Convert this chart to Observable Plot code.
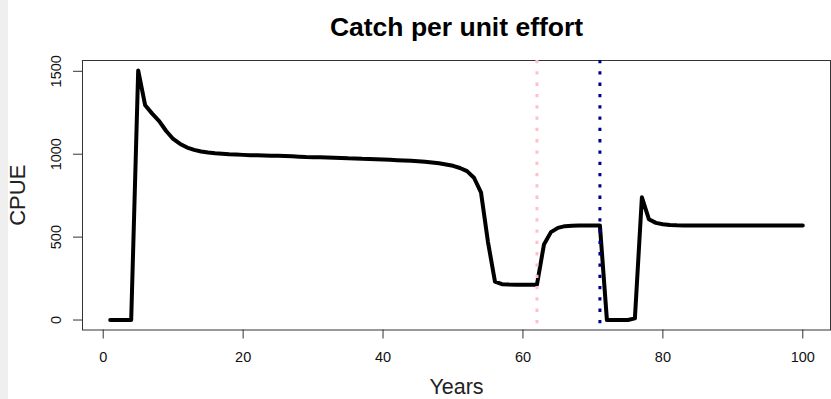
<!DOCTYPE html>
<html>
<head>
<meta charset="utf-8">
<script src="https://cdn.jsdelivr.net/npm/d3@7"></script>
<script src="https://cdn.jsdelivr.net/npm/@observablehq/plot@0.6"></script>
<style>
  html, body { margin: 0; padding: 0; background: #fff; }
  #wrap { position: relative; width: 831px; height: 399px; overflow: hidden; }
  #strip { position: absolute; left: 0; top: 0; width: 8px; height: 399px; background: #efefef; z-index: 2; }
  #chart { position: absolute; left: 0; top: 0; }
</style>
</head>
<body>
<div id="wrap"><div id="strip"></div><div id="chart"></div></div>
<script>
// ---- data ----
const years = [
  1,2,3,4,5,6,7,8,9,10,11,12,13,14,15,16,17,18,19,20,
  21,22,23,24,25,26,27,28,29,30,31,32,33,34,35,36,37,38,39,40,
  41,42,43,44,45,46,47,48,49,50,51,52,53,54,55,56,57,58,59,60,
  61,62,63,64,65,66,67,68,69,70,71,72,73,74,75,76,77,78,79,80,
  81,82,83,84,85,86,87,88,89,90,91,92,93,94,95,96,97,98,99,100
];
const cpue = [
  0,0,0,0,1505,1295,1245,1200,1140,1092,1062,1040,1026,1016,1010,1006,1003,1000,998,996,
  994,993,992,991,990,989,987,985,983,982,981,980,979,977,975,974,972,971,970,968,
  966,964,962,960,958,954,950,945,938,930,917,898,858,770,470,232,216,214,213,213,
  213,213,455,530,556,566,569,570,570,570,570,0,0,0,0,10,740,608,586,578,
  573,571,570,570,570,570,570,570,570,570,570,570,570,570,570,570,570,570,570,570
];
const refYears = [62, 71];
const refColors = ["#FFC0CB", "#00008B"];
const xTicks = [0, 20, 40, 60, 80, 100];
const yTicks = [0, 500, 1000, 1500];
const titleText = "Catch per unit effort";
const xLabel = "Years";
const yLabel = "CPUE";

const rows = years.map((y, i) => ({year: y, cpue: cpue[i]}));
const refs = refYears.map((y, i) => ({year: y, color: refColors[i]}));
const font = "'Liberation Sans', Arial, sans-serif";

const chart = Plot.plot({
  width: 831,
  height: 399,
  marginLeft: 82,
  marginRight: 1,
  marginTop: 60,
  marginBottom: 69.5,
  style: {fontFamily: font, background: "transparent", color: "#1a1a1a"},
  x: {domain: [-2.96, 103.96]},
  y: {domain: [-60.2, 1565.2]},
  marks: [
    Plot.frame({stroke: "#333", strokeWidth: 1}),
    Plot.axisX(xTicks, {tickSize: 9, tickPadding: 13, fontSize: 14.5, label: null, stroke: "#333", fill: "#111"}),
    Plot.axisY(yTicks, {tickSize: 9, tickFormat: () => "", label: null, stroke: "#333"}),
    Plot.text(yTicks, {y: d => d, text: d => String(d), frameAnchor: "left", dx: -26, rotate: -90,
      fontSize: 14.5, lineAnchor: "middle", textAnchor: "middle", fill: "#111"}),
    Plot.line(rows, {x: "year", y: "cpue", stroke: "#000", strokeWidth: 4,
      strokeLinejoin: "round", strokeLinecap: "round"}),
    Plot.ruleX(refs, {x: "year", stroke: "color", strokeWidth: 3, strokeDasharray: "3.3,8"}),
    Plot.text([titleText], {frameAnchor: "top", dy: -32.5, fontSize: 26.5, fontWeight: "bold",
      fill: "#000", lineAnchor: "middle"}),
    Plot.text([xLabel], {frameAnchor: "bottom", dy: 57, fontSize: 21.5, fill: "#222", lineAnchor: "middle"}),
    Plot.text([yLabel], {frameAnchor: "left", dx: -64.5, rotate: -90, fontSize: 22, fill: "#222",
      lineAnchor: "middle", textAnchor: "middle"})
  ]
});
document.getElementById("chart").appendChild(chart);
</script>
</body>
</html>
